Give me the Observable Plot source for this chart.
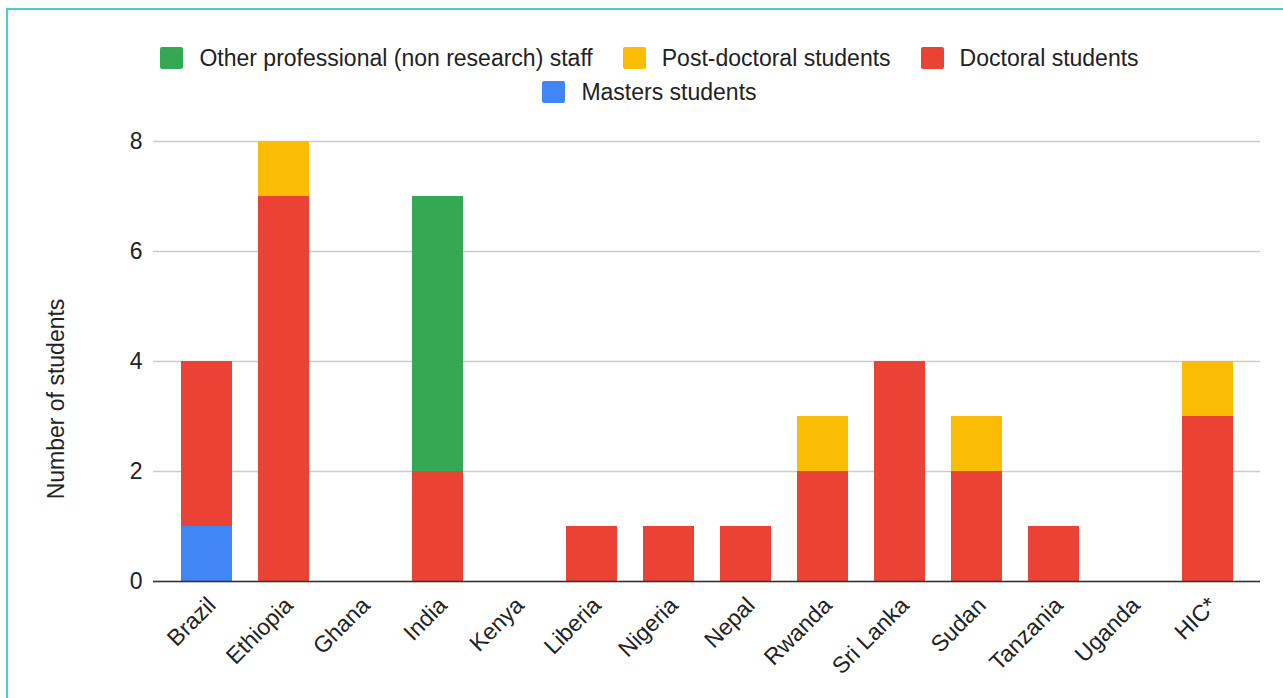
<!DOCTYPE html>
<html>
<head>
<meta charset="utf-8">
<script src="https://cdn.jsdelivr.net/npm/d3@7"></script>
<script src="https://cdn.jsdelivr.net/npm/@observablehq/plot@0.6"></script>
<style>
  html, body { margin: 0; padding: 0; background: #fff; }
  body { width: 1283px; height: 698px; position: relative; overflow: hidden;
         font-family: "Liberation Sans", Arial, sans-serif; }
  #frame { position: absolute; left: 6px; top: 8px; width: 1300px; height: 720px;
           border: 2px solid #45cfc8; box-sizing: border-box; pointer-events: none; }
  #legend { position: absolute; left: 0; top: 41px; width: 1299px; }
  .row { display: flex; justify-content: center; column-gap: 30px; height: 34px; align-items: center; }
  .item { display: flex; align-items: center; font-size: 23px; color: #222; }
  .swatch { width: 23px; height: 22px; border-radius: 2px; margin-right: 16px; }
  #chart { position: absolute; left: 0; top: 120px; }
  #ylabel { position: absolute; left: 56px; top: 399px; transform: translate(-50%, -50%) rotate(-90deg);
            white-space: nowrap; font-size: 23px; color: #222; }
</style>
</head>
<body>
<div id="legend"></div>
<div id="chart"></div>
<div id="ylabel"></div>
<div id="frame"></div>
<script>
// Countries along the x axis
const countries = ["Brazil", "Ethiopia", "Ghana", "India", "Kenya", "Liberia", "Nigeria",
  "Nepal", "Rwanda", "Sri Lanka", "Sudan", "Tanzania", "Uganda", "HIC*"];

// Head counts per category, one value per country
const masters    = [1, 0, 0, 0, 0, 0, 0, 0, 0, 0, 0, 0, 0, 0];
const doctoral   = [3, 7, 0, 2, 0, 1, 1, 1, 2, 4, 2, 1, 0, 3];
const postdoc    = [0, 1, 0, 0, 0, 0, 0, 0, 1, 0, 1, 0, 0, 1];
const otherStaff = [0, 0, 0, 5, 0, 0, 0, 0, 0, 0, 0, 0, 0, 0];

// Series, bottom of the stack first
const seriesNames = ["Masters students", "Doctoral students", "Post-doctoral students",
  "Other professional (non research) staff"];
const seriesValues = [masters, doctoral, postdoc, otherStaff];
const seriesColors = ["#4285f4", "#ea4335", "#fbbc04", "#34a853"];

const yTicks = [0, 2, 4, 6, 8];
const yLabel = "Number of students";

// Long-format table for the stacked bars
const rows = [];
seriesNames.forEach((name, s) => {
  countries.forEach((c, i) => {
    rows.push({country: c, category: name, value: seriesValues[s][i]});
  });
});

// Legend: top category first, wrapped into two rows
const legendOrder = [3, 2, 1, 0];
const legendRows = [legendOrder.slice(0, 3), legendOrder.slice(3)];
const legend = document.getElementById("legend");
legendRows.forEach(r => {
  const row = document.createElement("div");
  row.className = "row";
  r.forEach(s => {
    const item = document.createElement("div");
    item.className = "item";
    const sw = document.createElement("div");
    sw.className = "swatch";
    sw.style.background = seriesColors[s];
    item.appendChild(sw);
    item.appendChild(document.createTextNode(seriesNames[s]));
    row.appendChild(item);
  });
  legend.appendChild(row);
});

document.getElementById("ylabel").textContent = yLabel;

const chart = Plot.plot({
  width: 1283,
  height: 578,
  marginTop: 21,
  marginBottom: 117,
  marginLeft: 153,
  marginRight: 23,
  style: {fontFamily: "'Liberation Sans', Arial, sans-serif", fontSize: "23px", color: "#222"},
  x: {domain: countries, paddingInner: 0.34, paddingOuter: 0.345, label: null},
  y: {domain: [0, 8], label: null},
  color: {domain: seriesNames, range: seriesColors},
  marks: [
    Plot.gridY(yTicks, {stroke: "#cccccc", strokeOpacity: 1, strokeWidth: 1.5}),
    Plot.axisY(yTicks, {tickSize: 0, tickPadding: 11, tickFormat: "d", label: null}),
    Plot.axisX({tickSize: 0, tickPadding: 20, dx: 5, tickRotate: -45, label: null}),
    Plot.barY(rows, Plot.stackY({
      x: "country", y: "value", fill: "category",
      order: seriesNames
    })),
    Plot.ruleY([0], {stroke: "#333", strokeWidth: 1.5})
  ]
});
document.getElementById("chart").appendChild(chart);
</script>
</body>
</html>
